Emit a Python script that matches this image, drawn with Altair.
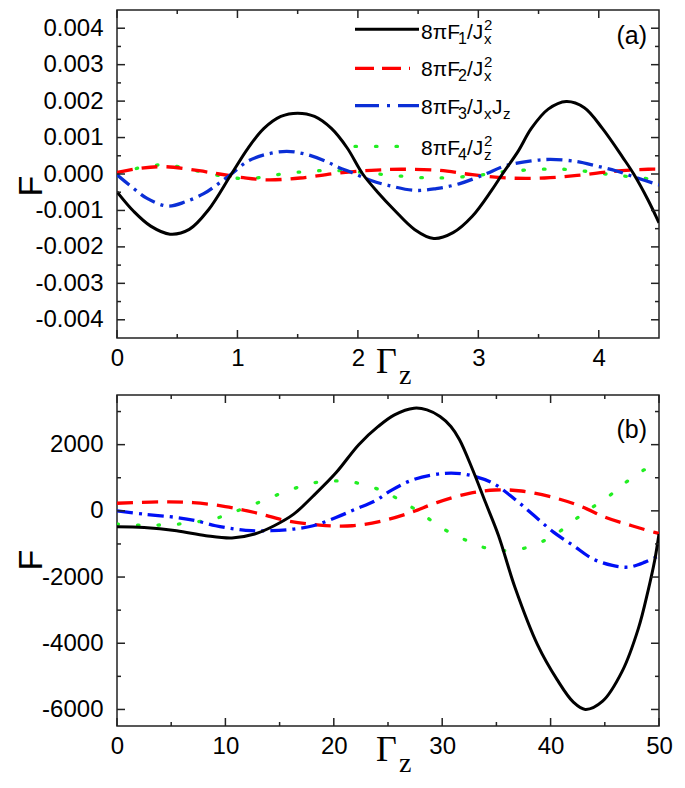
import altair as alt
import pandas as pd

# ---------------- data: panel (a) ----------------
a_x1 = [0, 0.14, 0.28, 0.44, 0.60, 0.76, 0.95, 1.09, 1.22, 1.36, 1.50, 1.64, 1.78, 1.91, 2.04, 2.17, 2.30,
        2.47, 2.63, 2.79, 2.95, 3.11, 3.20, 3.33, 3.44, 3.58, 3.73, 3.88, 4.03, 4.20, 4.29, 4.41, 4.50]
a_y1 = [-0.00049, -0.00103, -0.00143, -0.00165, -0.00152, -0.00098, 0.0, 0.00072, 0.00125, 0.00158, 0.00167,
        0.00158, 0.00125, 0.00072, 0.0, -0.00052, -0.00098, -0.00152, -0.00177, -0.00161, -0.00116, -0.00045,
        0.0, 0.00062, 0.00125, 0.00178, 0.00199, 0.00182, 0.00125, 0.00045, 0.0, -0.00072, -0.00134]
a_x2 = [0, 0.20, 0.40, 0.68, 0.85, 1.05, 1.25, 1.52, 1.82, 2.11, 2.36, 2.68, 2.95, 3.25, 3.55, 3.82, 4.11, 4.41, 4.5]
a_y2 = [0.00004, 0.00016, 0.0002, 0.00009, 0.0, -0.0001, -0.00016, -0.00011, 0.00002, 0.0001, 0.00013, 0.0001,
        -0.00002, -0.00011, -0.00011, -0.00004, 0.00007, 0.00013, 0.00013]
a_x3 = [0, 0.14, 0.25, 0.42, 0.57, 0.72, 0.84, 0.95, 1.09, 1.24, 1.41, 1.57, 1.74, 1.84, 1.95, 2.11, 2.25, 2.47,
        2.65, 2.84, 3.06, 3.22, 3.44, 3.60, 3.82, 3.98, 4.14, 4.30, 4.5]
a_y3 = [-0.00002, -0.0004, -0.00067, -0.00088, -0.00076, -0.00054, -0.00027, 0.0, 0.00036, 0.00054, 0.00062,
        0.00054, 0.00034, 0.00018, 0.00004, -0.00018, -0.00031, -0.00045, -0.0004, -0.00027, 0.0, 0.00022,
        0.00036, 0.0004, 0.00034, 0.00022, 0.00009, -0.00009, -0.0003]
a_x4 = [0, 0.17, 0.37, 0.53, 0.71, 0.88, 1.06, 1.24, 1.41, 1.59, 1.75, 1.92, 2.11, 2.29, 2.64, 2.99, 3.17, 3.53,
        3.71, 3.88, 4.06, 4.24, 4.5]
a_y4 = [-0.00005, 0.00016, 0.00025, 0.00019, 0.00005, -0.00006, -0.00013, -0.00007, 0.00002, 0.00007, 0.0001,
        0.00008, 0.00002, -0.00004, -0.00011, -0.00004, 0.00005, 0.00013, 0.00013, 0.00008, 0.0, -0.00007, -0.00016]

# ---------------- data: panel (b) ----------------
b_x1 = [0, 2.5, 5.5, 8.2, 10.6, 12.7, 14.5, 16.3, 18.1, 20.2, 22.3, 24.1, 25.6, 27.4, 28.6, 29.8, 30.8, 31.6,
        32.8, 34.0, 35.2, 36.7, 38.8, 40.6, 42.1, 43.2, 44.8, 46.6, 48.1, 49.0, 49.6, 50]
b_y1 = [-480, -500, -600, -750, -820, -700, -450, -100, 450, 1150, 2000, 2550, 2900, 3100, 3050, 2850, 2550, 2150,
        1250, 250, -750, -2300, -4050, -5100, -5780, -6000, -5750, -4850, -3550, -2400, -1500, -700]
b_x2 = [0, 4.0, 7.0, 10.0, 12.7, 15.7, 18.7, 21.7, 24.5, 27.1, 29.5, 32.5, 34.9, 37.3, 40.3, 42.7, 45.1, 47.5,
        49.6, 50]
b_y2 = [230, 270, 250, 130, -50, -300, -430, -450, -300, -50, 250, 530, 630, 600, 400, 150, -200, -450, -650, -680]
b_x3 = [0, 2.5, 5.5, 7.3, 9.1, 10.9, 12.4, 14.2, 16.3, 18.1, 20.2, 22.0, 23.8, 25.3, 27.4, 30.1, 32.2, 34.6, 36.7,
        38.5, 40.3, 42.1, 43.9, 45.7, 47.2, 48.7, 50]
b_y3 = [0, -100, -200, -300, -450, -550, -600, -600, -550, -450, -200, 50, 300, 620, 950, 1130, 1100, 850, 350,
        -150, -650, -1050, -1450, -1650, -1700, -1550, -1350]
b_x4 = [0, 1.9, 3.7, 5.6, 7.4, 9.1, 10.4, 11.9, 13.4, 14.9, 16.3, 17.9, 19.7, 21.5, 23.0, 24.5, 25.7, 27.1, 28.4,
        29.6, 31.0, 32.5, 34.0, 35.6, 37.3, 38.9, 40.3, 42.1, 43.6, 45.4, 46.9, 48.4, 50]
b_y4 = [-400, -430, -430, -400, -330, -230, -80, 100, 300, 500, 670, 830, 900, 880, 770, 600, 400, 130, -150,
        -450, -700, -930, -1120, -1200, -1150, -970, -750, -300, 50, 450, 850, 1200, 1400]

# ticks / labels
a_xlabels = [0, 1, 2, 3, 4]
a_xminor = [0.5, 1.5, 2.5, 3.5]
a_ylabels = [-0.004, -0.003, -0.002, -0.001, 0.0, 0.001, 0.002, 0.003, 0.004]
a_yminor = [-0.0035, -0.0025, -0.0015, -0.0005, 0.0005, 0.0015, 0.0025, 0.0035]
b_xlabels = [0, 10, 20, 30, 40, 50]
b_xminor = [5, 15, 25, 35, 45]
b_ylabels = [-6000, -4000, -2000, 0, 2000]
b_yminor = [-5000, -3000, -1000, 1000, 3000]

W = 542
HA = 328
HB = 331
FONT = "Liberation Sans"
FRAME = "#222222"

RED = "#ff0000"
GREEN = "#22ee22"
BLACK = "#000000"
INTERP = "catmull-rom"


def series_layers(data, xs, ys, axx, axy, blue):
    # draw order: green, red, blue, black on top
    styles = [
        (3, GREEN, [1.5, 19], "round", 3.3),
        (1, RED, [16, 9], "butt", 3.3),
        (2, blue, [16, 6, 3, 6], "butt", 3.3),
        (0, BLACK, None, "butt", 3.0),
    ]
    out = []
    for idx, col, dash, cap, sw in styles:
        xv, yv = data[idx]
        df = pd.DataFrame({"x": xv, "y": yv})
        kw = dict(color=col, strokeWidth=sw, interpolate=INTERP, strokeCap=cap, clip=True)
        if dash is not None:
            kw["strokeDash"] = dash
        out.append(alt.Chart(df).mark_line(**kw).encode(
            x=alt.X("x:Q", scale=xs, axis=axx),
            y=alt.Y("y:Q", scale=ys, axis=axy),
        ))
    return out


def tick_layers(xmaj, xmin, ymaj, ymin, xs, ys, axx, axy, H):
    out = []
    for vals, L in [(xmaj, 8), (xmin, 4)]:
        base = alt.Chart(pd.DataFrame({"x": vals})).mark_rule(color=FRAME, strokeWidth=1.5)
        out.append(base.encode(x=alt.X("x:Q", scale=xs, axis=axx), y=alt.value(H), y2=alt.value(H - L)))
        out.append(base.encode(x=alt.X("x:Q", scale=xs, axis=axx), y=alt.value(0), y2=alt.value(L)))
    for vals, L in [(ymaj, 8), (ymin, 4)]:
        base = alt.Chart(pd.DataFrame({"y": vals})).mark_rule(color=FRAME, strokeWidth=1.5)
        out.append(base.encode(y=alt.Y("y:Q", scale=ys, axis=axy), x=alt.value(0), x2=alt.value(L)))
        out.append(base.encode(y=alt.Y("y:Q", scale=ys, axis=axy), x=alt.value(W), x2=alt.value(W - L)))
    return out


def one(txt):
    return alt.Chart(pd.DataFrame({"t": [txt]}))


def titles(H, fy, tag, tag_y):
    lay = []
    # invisible anchor fixing the left edge of the whole figure
    lay.append(one("a").mark_rule(opacity=0, strokeWidth=1).encode(
        x=alt.value(-107.5), y=alt.value(100), y2=alt.value(101)))
    lay.append(one("F").mark_text(angle=270, fontSize=34, font=FONT, align="center", baseline="alphabetic",
                                  color="black").encode(x=alt.value(-75), y=alt.value(fy), text="t:N"))
    lay.append(one("\u0393").mark_text(fontSize=36, font="Liberation Serif", align="left", baseline="alphabetic",
                                       color="black").encode(x=alt.value(259), y=alt.value(H + 35), text="t:N"))
    lay.append(one("z").mark_text(fontSize=28, font="Liberation Serif", align="left", baseline="alphabetic",
                                  color="black").encode(x=alt.value(282), y=alt.value(H + 46), text="t:N"))
    lay.append(one(tag).mark_text(fontSize=25, font=FONT, align="right", baseline="alphabetic",
                                  color="black").encode(x=alt.value(W - 12), y=alt.value(tag_y), text="t:N"))
    return lay


MINUS = "replace(datum.label, '\u2212', '-')"


def axis_x(vals):
    return alt.Axis(values=vals, format="d", title=None, ticks=False, domain=False, grid=False,
                    labelFont=FONT, labelFontSize=24, labelColor="black", labelPadding=8,
                    labelFlush=False, labelOverlap=False)


def axis_y(vals, fmt):
    return alt.Axis(values=vals, format=fmt, title=None, ticks=False, domain=False, grid=False,
                    labelFont=FONT, labelFontSize=24, labelColor="black", labelPadding=14,
                    labelFlush=False, labelOverlap=False, labelExpr=MINUS)


# ---------------- legend (panel a) ----------------
leg_names = ["1", "2", "3", "4"]
leg_base = [29.0, 66.4, 103.8, 144.5]
leg_line = [19.2, 58.3, 95.7, 136.4]
x0 = 304
pieces = []
for i, d in enumerate(leg_names):
    b = leg_base[i]
    pieces.append(("8\u03c0F", x0, b, 21))
    pieces.append((d, x0 + 37, b + 5, 16))
    pieces.append(("/J", x0 + 46, b, 21))
    if d in ("1", "2"):
        pieces.append(("2", x0 + 63, b - 9, 15))
        pieces.append(("x", x0 + 63, b + 5, 15))
    elif d == "3":
        pieces.append(("x", x0 + 63, b + 5, 15))
        pieces.append(("J", x0 + 71, b, 21))
        pieces.append(("z", x0 + 82, b + 5, 15))
    else:
        pieces.append(("2", x0 + 63, b - 9, 15))
        pieces.append(("z", x0 + 63, b + 5, 15))
leg_df = pd.DataFrame(pieces, columns=["t", "px", "py", "fs"])
legend_text = alt.Chart(leg_df).mark_text(align="left", baseline="alphabetic", font=FONT, color="black").encode(
    x=alt.X("px:Q", scale=None, axis=None), y=alt.Y("py:Q", scale=None, axis=None),
    text="t:N", size=alt.Size("fs:Q", scale=None, legend=None))

leg_specs = [(BLACK, None, 3.0, 302, "butt"), (RED, [19, 8], 3.3, 293, "butt"),
             (None, [24, 8, 3, 8], 3.3, 302, "butt"), (GREEN, [1.5, 19], 3.3, 288, "round")]

# ---------------- panel (a) ----------------
xs_a = alt.Scale(domain=[0, 4.5], nice=False, zero=False)
ys_a = alt.Scale(domain=[-0.0045, 0.0045], nice=False, zero=False)
axx_a = axis_x(a_xlabels)
axy_a = axis_y(a_ylabels, ".3f")
BLUE_A = "#0b2fd6"
data_a = [(a_x1, a_y1), (a_x2, a_y2), (a_x3, a_y3), (a_x4, a_y4)]

leg_lines = []
for i, (col, dash, sw, xe, cap) in enumerate(leg_specs):
    kw = dict(color=col if col else BLUE_A, strokeWidth=sw, strokeCap=cap)
    if dash is not None:
        kw["strokeDash"] = dash
    leg_lines.append(one("l").mark_rule(**kw).encode(
        x=alt.value(238), x2=alt.value(xe), y=alt.value(leg_line[i])))

layers_a = (series_layers(data_a, xs_a, ys_a, axx_a, axy_a, BLUE_A)
            + tick_layers(a_xlabels, a_xminor, a_ylabels, a_yminor, xs_a, ys_a, axx_a, axy_a, HA)
            + leg_lines + [legend_text]
            + titles(HA, 176, "(a)", 34))
panel_a = alt.layer(*layers_a).properties(width=W, height=HA)

# ---------------- panel (b) ----------------
xs_b = alt.Scale(domain=[0, 50], nice=False, zero=False)
ys_b = alt.Scale(domain=[-6500, 3500], nice=False, zero=False)
axx_b = axis_x(b_xlabels)
axy_b = axis_y(b_ylabels, "d")
BLUE_B = "#0010f5"
data_b = [(b_x1, b_y1), (b_x2, b_y2), (b_x3, b_y3), (b_x4, b_y4)]
layers_b = (series_layers(data_b, xs_b, ys_b, axx_b, axy_b, BLUE_B)
            + tick_layers(b_xlabels, b_xminor, b_ylabels, b_yminor, xs_b, ys_b, axx_b, axy_b, HB)
            + titles(HB, 165, "(b)", 43))
panel_b = alt.layer(*layers_b).properties(width=W, height=HB)

chart = alt.vconcat(panel_a, panel_b, spacing=57, bounds="flush").properties(
    padding={"left": 0, "top": 0, "right": 0, "bottom": 0}
).configure_view(stroke=FRAME, strokeWidth=1.5)

chart.save("out.html", embed_options={"renderer": "svg", "actions": False})
